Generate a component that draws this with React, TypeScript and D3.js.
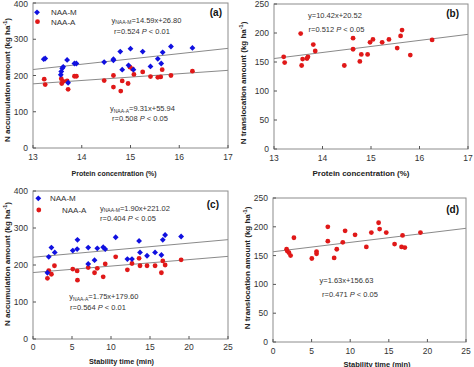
import React from "react";
import * as d3 from "d3";

// ---------- Data ----------
// Panel (a): protein concentration (%) vs N accumulation (kg/ha)
const aProteinM = [13.22, 13.25, 13.57, 13.58, 13.6, 13.62, 13.7, 13.72, 13.85, 13.89, 14.46, 14.65, 14.65, 14.79, 14.83, 14.96, 15.0, 15.06, 15.25, 15.41, 15.56, 15.63, 15.66, 15.83, 16.27];
const aAccumM = [245, 247, 202, 211, 220, 224, 243, 180, 233, 233, 237, 245, 242, 266, 216, 228, 274, 216, 266, 225, 246, 233, 264, 280, 276];
const aProteinA = [13.23, 13.25, 13.58, 13.59, 13.62, 13.7, 13.72, 13.85, 13.89, 14.46, 14.65, 14.65, 14.8, 14.83, 14.95, 14.99, 15.04, 15.07, 15.25, 15.41, 15.56, 15.62, 15.65, 15.83, 16.27];
const aAccumA = [190, 175, 191, 178, 184, 185, 162, 198, 198, 186, 200, 168, 157, 185, 178, 223, 218, 203, 210, 197, 195, 196, 216, 200, 212];

// Panel (b): protein concentration vs N translocation
const bProtein = [13.2, 13.22, 13.55, 13.57, 13.59, 13.68, 13.7, 13.81, 13.85, 14.45, 14.63, 14.63, 14.77, 14.8, 14.93, 14.98, 15.04, 15.23, 15.37, 15.54, 15.61, 15.64, 15.81, 16.26];
const bTransloc = [159, 149, 199, 144, 155, 156, 159, 180, 169, 144, 191, 172, 151, 163, 163, 184, 189, 184, 189, 174, 195, 205, 162, 188];

// Panel (c): stability time (min) vs N accumulation
const cTimeM = [1.85, 2.02, 2.36, 2.79, 5.1, 5.66, 5.7, 7.08, 7.08, 7.89, 8.24, 9.0, 9.26, 10.6, 12.1, 12.69, 13.6, 13.72, 14.62, 15.65, 16.46, 16.64, 16.94, 18.99];
const cAccumM = [179, 222, 247, 234, 239, 243, 268, 247, 203, 213, 245, 248, 243, 275, 216, 216, 265, 234, 225, 234, 227, 268, 281, 277];
const cTimeA = [1.85, 2.02, 2.36, 2.75, 5.1, 5.66, 5.7, 7.08, 7.89, 8.24, 9.0, 9.26, 10.6, 12.1, 12.69, 13.6, 13.72, 14.62, 15.65, 16.46, 16.64, 16.94, 18.99];
const cAccumA = [164, 185, 175, 198, 189, 184, 159, 193, 179, 191, 168, 203, 222, 187, 204, 218, 198, 198, 198, 179, 211, 200, 214];

// Panel (d): stability time vs N translocation
const dTime = [1.76, 1.85, 2.07, 2.28, 2.71, 5.03, 5.64, 5.64, 7.1, 7.1, 7.92, 8.26, 9.04, 9.34, 10.63, 12.09, 12.74, 13.68, 13.81, 14.67, 15.75, 16.65, 16.78, 17.08, 19.1];
const dTransloc = [161, 158, 155, 150, 181, 145, 157, 153, 200, 175, 146, 161, 173, 193, 186, 165, 190, 207, 196, 190, 170, 165, 185, 164, 190];

// Regression coefficients [slope, intercept]
const regAM = [14.59, 26.8];
const regAA = [9.31, 55.94];
const regB = [10.42, 20.52];
const regCM = [1.9, 221.02];
const regCA = [1.75, 179.6];
const regD = [1.63, 156.63];

// Axis ticks
const proteinTicks = [13, 14, 15, 16, 17];
const timeTicks = [0, 5, 10, 15, 20, 25];
const accumTicks = [0, 100, 200, 300, 400];
const translocTicks = [0, 50, 100, 150, 200, 250];

const BLUE = "#1010e0";
const RED = "#e01818";
const FONT = "Liberation Sans, Arial, sans-serif";

type Series = { xs: number[]; ys: number[]; kind: "diamond" | "circle" };
type Eq = { main: string; sub?: string; rhs: string; r: string; p: string; x: number; y: number; rx: number; ry: number };

function Panel(props: {
  left: number; right: number; top: number; bottom: number;
  xDom: [number, number]; xTicks: number[];
  yDom: [number, number]; yTicks: number[];
  series: Series[]; regs: number[][];
  xTitle: string; xTitleX: number; xTitleY: number; xTitleLen: number;
  yTitle: string; yTitleX: number; yTitleY: number;
  xTickY: number;
  label: string; labelX: number; labelY: number;
  eqs: Eq[];
}) {
  const p = props;
  const x = d3.scaleLinear().domain(p.xDom).range([p.left, p.right]);
  const y = d3.scaleLinear().domain(p.yDom).range([p.bottom, p.top]);
  const diamond = d3.symbol().type(d3.symbolSquare).size(17)() as string;
  return (
    <g>
      {p.regs.map((r, i) => (
        <line key={"r" + i} x1={x(p.xDom[0])} y1={y(r[0] * p.xDom[0] + r[1])} x2={x(p.xDom[1])} y2={y(r[0] * p.xDom[1] + r[1])} stroke="#8a8a8a" strokeWidth={1} />
      ))}
      {p.series.map((s, si) =>
        s.xs.map((xv, i) =>
          s.kind === "diamond" ? (
            <path key={si + "-" + i} d={diamond} transform={`translate(${x(xv)},${y(s.ys[i])}) rotate(45)`} fill={BLUE} />
          ) : (
            <circle key={si + "-" + i} cx={x(xv)} cy={y(s.ys[i])} r={2.4} fill={RED} />
          )
        )
      )}
      <rect x={p.left} y={p.top} width={p.right - p.left} height={p.bottom - p.top} fill="none" stroke="#8c8c8c" strokeWidth={1} />
      {p.xTicks.map((t) => (
        <g key={"xt" + t}>
          <line x1={x(t)} x2={x(t)} y1={p.bottom} y2={p.bottom - 3} stroke="#555" />
          <text x={x(t)} y={p.xTickY} textAnchor="middle" fontSize={8.5} fill="#333" fontFamily={FONT}>{t}</text>
        </g>
      ))}
      {p.yTicks.map((t) => (
        <g key={"yt" + t}>
          <line x1={p.left} x2={p.left + 3} y1={y(t)} y2={y(t)} stroke="#555" />
          <text x={p.left - 5} y={Math.max(y(t) + 3, 7)} textAnchor="end" fontSize={8.5} fill="#333" fontFamily={FONT}>{t}</text>
        </g>
      ))}
      <text x={p.xTitleX} y={p.xTitleY} textAnchor="middle" fontSize={8} fontWeight="bold" fill="#222" fontFamily={FONT} textLength={p.xTitleLen} lengthAdjust="spacingAndGlyphs">{p.xTitle}</text>
      <text transform={`translate(${p.yTitleX},${p.yTitleY}) rotate(-90)`} textAnchor="middle" fontSize={8} fontWeight="bold" fill="#222" fontFamily={FONT}>
        {p.yTitle}
        <tspan fontSize={5.5} dy={-3}>-1</tspan>
        <tspan dy={3}>)</tspan>
      </text>
      <text x={p.labelX} y={p.labelY} textAnchor="end" fontSize={10} fontWeight="bold" fill="#111" fontFamily={FONT}>{p.label}</text>
      {p.eqs.map((e, i) => (
        <g key={"eq" + i} fontFamily={FONT} fontSize={7.5} fill="#333">
          <text x={e.x} y={e.y}>
            {e.main}
            {e.sub ? <tspan fontSize={5} dy={1.5}>{e.sub}</tspan> : null}
            <tspan dy={e.sub ? -1.5 : 0}>{e.rhs}</tspan>
          </text>
          <text x={e.rx} y={e.ry}>
            {e.r} <tspan fontStyle="italic">P</tspan> {e.p}
          </text>
        </g>
      ))}
    </g>
  );
}

function Legend({ x, y, dy, tx1, tx2 }: { x: number; y: number; dy: number; tx1: number; tx2: number }) {
  const diamond = d3.symbol().type(d3.symbolSquare).size(17)() as string;
  return (
    <g fontFamily={FONT} fontSize={8} fill="#333">
      <path d={diamond} transform={`translate(${x},${y}) rotate(45)`} fill={BLUE} />
      <text x={tx1} y={y + 3}>NAA-M</text>
      <circle cx={x + 0.5} cy={y + dy} r={2.4} fill={RED} />
      <text x={tx2} y={y + dy + 3}>NAA-A</text>
    </g>
  );
}

export default function App() {
  return (
    <svg width={474} height={367} style={{ position: "absolute", left: 0, top: 0, background: "#fff" }}>
      <rect width={474} height={367} fill="#fff" />
      <Panel
        left={33} right={228} top={3} bottom={148}
        xDom={[13, 17]} xTicks={proteinTicks} yDom={[0, 400]} yTicks={accumTicks}
        series={[{ xs: aProteinA, ys: aAccumA, kind: "circle" }, { xs: aProteinM, ys: aAccumM, kind: "diamond" }]}
        regs={[regAM, regAA]}
        xTitle="Protein concentration (%)" xTitleX={114} xTitleY={176} xTitleLen={85}
        yTitle="N accumulation amount (kg ha" yTitleX={10} yTitleY={80}
        xTickY={160}
        label="(a)" labelX={222} labelY={16}
        eqs={[
          { main: "y", sub: "NAA-M", rhs: "=14.59x+26.80", r: "r=0.524", p: "< 0.01", x: 111.5, y: 22.5, rx: 114, ry: 33.5 },
          { main: "y", sub: "NAA-A", rhs: "=9.31x+55.94", r: "r=0.508", p: "< 0.05", x: 110, y: 111, rx: 112, ry: 121 },
        ]}
      />
      <Legend x={37} y={12.3} dy={9.4} tx1={51} tx2={51} />
      <Panel
        left={274} right={468} top={4} bottom={149}
        xDom={[13, 17]} xTicks={proteinTicks} yDom={[0, 250]} yTicks={translocTicks}
        series={[{ xs: bProtein, ys: bTransloc, kind: "circle" }]}
        regs={[regB]}
        xTitle="Protein concentration (%)" xTitleX={361} xTitleY={176} xTitleLen={97}
        yTitle="N translocation amount (kg ha" yTitleX={246} yTitleY={83}
        xTickY={160.5}
        label="(b)" labelX={459} labelY={16.5}
        eqs={[{ main: "y=10.42x+20.52", rhs: "", r: "r=0.512", p: "< 0.05", x: 308, y: 17.5, rx: 308.5, ry: 31.5 }]}
      />
      <Panel
        left={33} right={228} top={191} bottom={339}
        xDom={[0, 25]} xTicks={timeTicks} yDom={[0, 400]} yTicks={accumTicks}
        series={[{ xs: cTimeA, ys: cAccumA, kind: "circle" }, { xs: cTimeM, ys: cAccumM, kind: "diamond" }]}
        regs={[regCM, regCA]}
        xTitle="Stability time (min)" xTitleX={121.5} xTitleY={364} xTitleLen={65}
        yTitle="N accumulation amount (kg ha" yTitleX={10} yTitleY={264}
        xTickY={350}
        label="(c)" labelX={219} labelY={207.5}
        eqs={[
          { main: "y", sub: "NAA-M", rhs: "=1.90x+221.02", r: "r=0.404", p: "< 0.05", x: 100, y: 210.5, rx: 100, ry: 221 },
          { main: "y", sub: "NAA-A", rhs: "=1.75x+179.60", r: "r=0.564", p: "< 0.01", x: 69.3, y: 299, rx: 70, ry: 310 },
        ]}
      />
      <Legend x={38.3} y={198.3} dy={11.7} tx1={50} tx2={62} />
      <Panel
        left={273} right={466} top={198} bottom={342}
        xDom={[0, 25]} xTicks={timeTicks} yDom={[0, 250]} yTicks={translocTicks}
        series={[{ xs: dTime, ys: dTransloc, kind: "circle" }]}
        regs={[regD]}
        xTitle="Stability time (min)" xTitleX={377} xTitleY={367} xTitleLen={67}
        yTitle="N translocation amount (kg ha" yTitleX={250} yTitleY={268}
        xTickY={354}
        label="(d)" labelX={459} labelY={212.5}
        eqs={[{ main: "y=1.63x+156.63", rhs: "", r: "r=0.471", p: "< 0.05", x: 319.5, y: 283, rx: 322, ry: 297 }]}
      />
    </svg>
  );
}
